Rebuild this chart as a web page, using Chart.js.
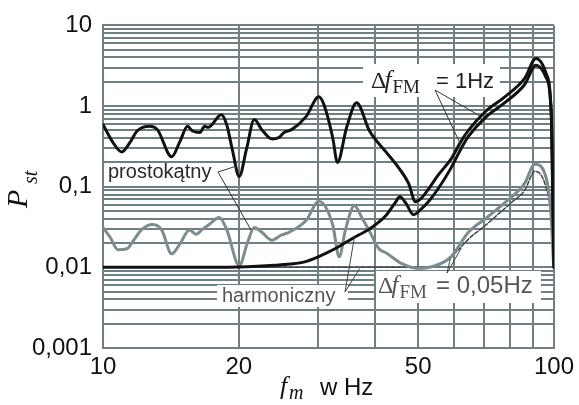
<!DOCTYPE html>
<html><head><meta charset="utf-8">
<script src="https://cdn.jsdelivr.net/npm/chart.js@4/dist/chart.umd.min.js"></script>
<style>html,body{margin:0;padding:0;background:#fff}canvas{display:block}</style>
</head><body>
<canvas id="c" width="579" height="405"></canvas>
<script>
// ---- tick definitions ----
const xTickValues = [10, 20, 30, 40, 50, 60, 70, 80, 90, 100];
const xLabelValues = [10, 20, 50, 100];
const xTickLabels = ['10', '20', '50', '100'];
const yDecades = [0.001, 0.01, 0.1, 1];
const yMultipliers = [1, 2, 3, 4, 5, 6, 7, 8, 9];
const yLabelValues = [0.001, 0.01, 0.1, 1, 10];
const yTickLabels = ['0,001', '0,01', '0,1', '1', '10'];

// ---- series: prostokątny, Δf_FM = 1 Hz (black) ----
const fRect1 = [10, 10.5, 11.0, 11.5, 11.9, 12.7, 13.2, 14.2, 14.8, 15.4, 15.8, 16.4, 16.8, 17.1, 18.3, 18.8, 19.35, 20.05, 20.8, 21.65, 22.5, 23.7, 24.6, 25.2, 26.2, 28.2, 30.1, 30.9, 32.3, 33.1, 34.7, 36.5, 39.0, 42.4, 45.3, 47.6, 49.3, 50.8, 52.8, 55.4, 59.1, 62.3, 64.6, 70.4, 77.8, 86.1, 91.2, 95.9, 98.6, 99.4, 100];
const pRect1 = [0.59, 0.36, 0.27, 0.36, 0.49, 0.56, 0.51, 0.235, 0.36, 0.56, 0.49, 0.47, 0.56, 0.545, 0.78, 0.59, 0.29, 0.134, 0.29, 0.68, 0.51, 0.39, 0.41, 0.47, 0.51, 0.74, 1.30, 1.04, 0.41, 0.20, 0.545, 1.10, 0.49, 0.27, 0.17, 0.11, 0.065, 0.072, 0.095, 0.14, 0.22, 0.37, 0.50, 0.85, 1.3, 2.2, 3.9, 2.6, 0.85, 0.08, 0.01];

// ---- series: harmoniczny, Δf_FM = 1 Hz (black) ----
const fHarm1 = [10, 15, 20, 22, 24, 26, 28, 30, 33, 35.8, 39.0, 42.4, 44.5, 45.5, 46.9, 48.8, 50.8, 53, 55.4, 59.1, 62.3, 64.6, 70.4, 77.8, 86.1, 91.2, 95.9, 98.6, 99.4, 100];
const pHarm1 = [0.01, 0.01, 0.0101, 0.0103, 0.0106, 0.011, 0.0117, 0.0135, 0.0175, 0.023, 0.03, 0.044, 0.064, 0.075, 0.063, 0.045, 0.053, 0.068, 0.095, 0.17, 0.30, 0.42, 0.72, 1.1, 1.85, 3.2, 2.3, 0.8, 0.07, 0.01];

// ---- series: prostokątny, Δf_FM = 0,05 Hz (grey) ----
const fRect005 = [10, 10.35, 10.8, 11.3, 11.65, 12.2, 12.9, 13.5, 14.2, 14.8, 15.55, 16.1, 16.6, 17.2, 18.1, 18.8, 20.05, 20.9, 21.65, 22.5, 23.7, 24.8, 25.85, 28.2, 30.1, 32.3, 33.4, 34.5, 36.1, 37.6, 39.0, 40.9, 42.4, 46.0, 50.0, 54.6, 59.1, 64.6, 70.4, 79.0, 86.1, 90.7, 95.9, 98.6, 99.6, 100];
const pRect005 = [0.031, 0.024, 0.0165, 0.017, 0.021, 0.0296, 0.034, 0.029, 0.0147, 0.0194, 0.029, 0.0257, 0.0296, 0.034, 0.0414, 0.0296, 0.0105, 0.02, 0.0313, 0.0272, 0.0217, 0.025, 0.0272, 0.038, 0.066, 0.034, 0.0135, 0.0296, 0.058, 0.04, 0.028, 0.017, 0.0152, 0.0111, 0.0097, 0.0105, 0.0135, 0.0272, 0.04, 0.068, 0.11, 0.19, 0.134, 0.042, 0.013, 0.01];

// ---- series: harmoniczny, Δf_FM = 0,05 Hz (grey dashed) ----
const fHarm005 = [10, 20, 30, 40, 50, 54, 57, 59.1, 61.4, 64.6, 70.4, 75, 80.3, 86.1, 90.7, 95.9, 98.6, 99.6, 100];
const pHarm005 = [0.01, 0.01, 0.01, 0.01, 0.01, 0.0102, 0.0115, 0.0135, 0.0165, 0.0224, 0.033, 0.045, 0.063, 0.09, 0.155, 0.10, 0.04, 0.013, 0.01];

const GRID = '#6f8085';
const yTickValues = [];
yDecades.forEach(d => yMultipliers.forEach(m => yTickValues.push(+(d * m).toPrecision(3))));
yTickValues.push(10);

const pts = (f, p) => f.map((x, i) => ({ x: x, y: p[i] }));
const labelFor = (v, vals, labs) => {
  const i = vals.findIndex(a => Math.abs(Math.log10(a) - Math.log10(v)) < 1e-6);
  return i >= 0 ? labs[i] : '';
};

const annot = {
  id: 'annot',
  beforeDatasetsDraw(chart) {
    const c = chart.ctx;
    c.save();
    c.fillStyle = '#fff';
    c.fillRect(363, 64, 137, 33);   // Δf = 1Hz
    c.fillRect(217, 285, 131, 22);  // harmoniczny
    c.fillRect(376, 271, 165, 32);  // Δf = 0,05Hz
    c.restore();
  },
  afterDatasetsDraw(chart) {
    const c = chart.ctx, xs = chart.scales.x, ys = chart.scales.y;
    const P = (f, v) => [xs.getPixelForValue(f), ys.getPixelForValue(v)];
    c.save();
    c.lineWidth = 1;
    c.strokeStyle = '#333';
    const lead = (x0, y0, targets) => {
      targets.forEach(t => {
        const q = P(t[0], t[1]);
        c.beginPath(); c.moveTo(x0, y0); c.lineTo(q[0], q[1]); c.stroke();
      });
    };
    lead(218, 172, [[19.75, 0.18], [21.3, 0.029]]);
    lead(435, 90, [[68.6, 0.75], [62.3, 0.32]]);
    c.strokeStyle = '#444';
    lead(345, 292, [[36.1, 0.0237], [37.1, 0.0097]]);
    lead(447, 273, [[62.3, 0.0174], [58.9, 0.0128]]);

    c.textBaseline = 'alphabetic';
    c.textAlign = 'left';
    c.fillStyle = '#2a2a2a';
    c.font = '20px "Liberation Sans", Arial, sans-serif';
    c.fillText('prostokątny', 108, 178);
    c.fillStyle = '#555';
    c.fillText('harmoniczny', 222, 302);

    const delta = (x, y, col, rest, restSize) => {
      c.fillStyle = col;
      c.font = '24px "Liberation Serif", serif';
      c.fillText('Δ', x, y);
      let w = c.measureText('Δ').width;
      c.font = 'italic 25px "Liberation Serif", serif';
      c.fillText('f', x + w - 2, y);
      w += c.measureText('f').width - 1;
      c.font = '19px "Liberation Serif", serif';
      c.fillText('FM', x + w, y + 5);
      c.font = restSize + 'px "Liberation Sans", Arial, sans-serif';
      c.fillText(rest, 436, y);
    };
    delta(371, 88, '#222', '= 1Hz', 22);
    delta(378, 293, '#555', '= 0,05Hz', 24);
    c.restore();
  },
  afterDraw(chart) {
    const c = chart.ctx;
    c.save();
    c.fillStyle = '#111';
    c.textBaseline = 'alphabetic';
    c.textAlign = 'left';
    // x axis title
    c.font = 'italic 26px "Liberation Serif", serif';
    c.fillText('f', 280, 394);
    c.font = 'italic 20px "Liberation Serif", serif';
    c.fillText('m', 289, 399);
    c.font = '24px "Liberation Sans", Arial, sans-serif';
    c.fillText('w Hz', 320, 395);
    // y axis title
    c.translate(27, 208);
    c.rotate(-Math.PI / 2);
    c.font = 'italic 30px "Liberation Serif", serif';
    c.fillText('P', 0, 0);
    c.font = 'italic 20px "Liberation Serif", serif';
    c.fillText('st', 24, 10);
    c.restore();
  }
};

new Chart(document.getElementById('c'), {
  type: 'line',
  data: {
    datasets: [
      { label: 'prostokątny, Δf=1Hz', data: pts(fRect1, pRect1), borderColor: '#111', borderWidth: 3, order: 1 },
      { label: 'harmoniczny, Δf=1Hz', data: pts(fHarm1, pHarm1), borderColor: '#111', borderWidth: 3, order: 2 },
      { label: 'prostokątny, Δf=0,05Hz', data: pts(fRect005, pRect005), borderColor: '#7d8c90', borderWidth: 3, order: 3 },
      { label: 'harmoniczny, Δf=0,05Hz', data: pts(fHarm005, pHarm005), borderColor: '#444', borderWidth: 1.5, borderDash: [4, 2], order: 4 }
    ]
  },
  options: {
    responsive: false,
    animation: false,
    layout: { padding: { left: 0, right: 23, top: 19, bottom: 0 } },
    plugins: { legend: { display: false }, tooltip: { enabled: false } },
    elements: {
      point: { radius: 0 },
      line: { cubicInterpolationMode: 'monotone', borderCapStyle: 'round', borderJoinStyle: 'round', fill: false }
    },
    scales: {
      x: {
        type: 'logarithmic', min: 10, max: 100,
        afterBuildTicks: s => { s.ticks = xTickValues.map(v => ({ value: v })); },
        afterFit: s => { s.height = 57; },
        grid: { color: GRID, lineWidth: 2, drawTicks: false },
        border: { color: GRID, width: 2 },
        ticks: {
          autoSkip: false, maxRotation: 0, minRotation: 0, padding: 5, color: '#111',
          font: { family: '"Liberation Sans", Arial, sans-serif', size: 24 },
          callback: v => labelFor(v, xLabelValues, xTickLabels)
        }
      },
      y: {
        type: 'logarithmic', min: 0.001, max: 10,
        afterBuildTicks: s => { s.ticks = yTickValues.map(v => ({ value: v })); },
        afterFit: s => { s.width = 103; },
        grid: { color: GRID, lineWidth: 2, drawTicks: false },
        border: { color: GRID, width: 2 },
        ticks: {
          autoSkip: false, padding: 11, color: '#111',
          font: { family: '"Liberation Sans", Arial, sans-serif', size: 24 },
          callback: v => labelFor(v, yLabelValues, yTickLabels)
        }
      }
    }
  },
  plugins: [annot]
});
</script>
</body></html>
